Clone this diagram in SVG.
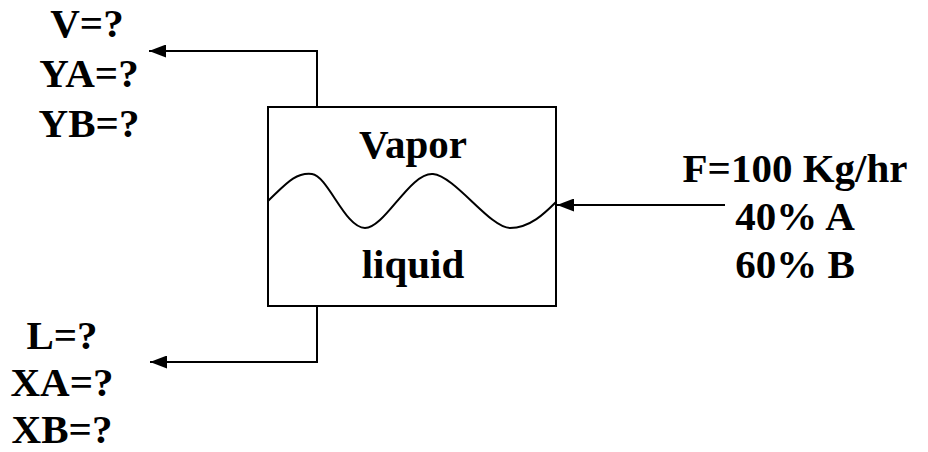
<svg xmlns="http://www.w3.org/2000/svg" width="928" height="452" viewBox="0 0 928 452">
<style>
.t{font-family:"Liberation Serif","Times New Roman",serif;font-weight:bold;font-size:41px;fill:#000;text-anchor:middle}
.ln{fill:none;stroke:#000;stroke-width:2}
</style>
<defs>
<marker id="ah" markerWidth="17" markerHeight="13" refX="17" refY="6.5" orient="auto" markerUnits="userSpaceOnUse">
<path d="M0,0 L17,6.5 L0,13 Z" fill="#000"/>
</marker>
</defs>
<rect width="928" height="452" fill="#fff"/>
<g id="drum">
<rect x="268" y="107" width="288" height="199" class="ln"/>
<path class="ln" d="M268,201 C285,185 295,172 312,174 C328,176 345,228 365,228 C385,228 410,172 433,174 C455,176 490,228 510,228 C530,228 545,213 556,202"/>
<text class="t" x="413" y="158">Vapor</text>
<text class="t" x="413" y="278">liquid</text>
</g>
<g id="vapor-out">
<text class="t" x="87" y="37">V=?</text>
<text class="t" x="89" y="87">YA=?</text>
<text class="t" x="89" y="137">YB=?</text>
</g>
<g id="liquid-out">
<text class="t" x="62" y="349">L=?</text>
<text class="t" x="62" y="396">XA=?</text>
<text class="t" x="62" y="443">XB=?</text>
</g>
<g id="feed">
<text class="t" x="795" y="182">F=100 Kg/hr</text>
<text class="t" x="795" y="230">40% A</text>
<text class="t" x="795" y="278">60% B</text>
</g>
<g id="connectors">
<path class="ln" d="M317,107 V51 H149" marker-end="url(#ah)"/>
<path class="ln" d="M317,306 V362 H150" marker-end="url(#ah)"/>
<path class="ln" d="M725,205 H557" marker-end="url(#ah)"/>
</g>
</svg>
